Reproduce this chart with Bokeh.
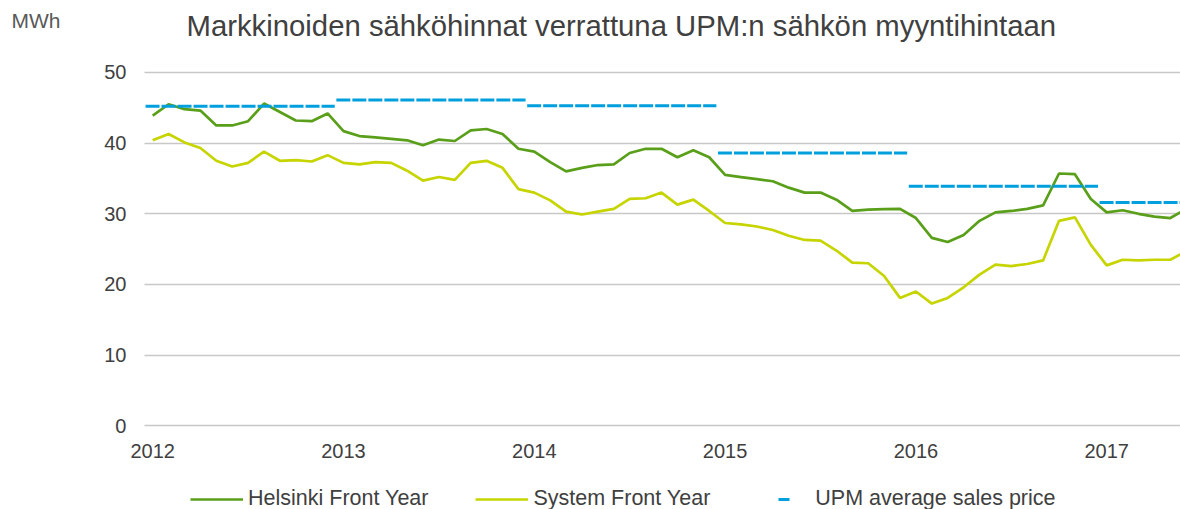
from bokeh.plotting import figure
from bokeh.models import (Range1d, FixedTicker, Label, Legend, LegendItem,
                          ColumnDataSource, LinearAxis, Grid)
from bokeh.embed import file_html
from bokeh.resources import INLINE

# ---------------- data ----------------
start_year = 2012
tick_years = [2012, 2013, 2014, 2015, 2016, 2017]
y_ticks = [0, 10, 20, 30, 40, 50]

# monthly values from Jan 2012 (EUR/MWh)
helsinki = [43.9, 45.5, 44.8, 44.6, 42.5, 42.5, 43.1, 45.6, 44.4, 43.2, 43.1, 44.2,
            41.7, 41.0, 40.8, 40.6, 40.4, 39.7, 40.5, 40.3, 41.8, 42.0, 41.3, 39.2,
            38.8, 37.3, 36.0, 36.5, 36.9, 37.0, 38.6, 39.2, 39.2, 38.0, 39.0, 38.0,
            35.5, 35.2, 34.9, 34.6, 33.7, 33.0, 33.0, 32.0, 30.4, 30.6, 30.65, 30.7,
            29.4, 26.6, 26.0, 27.0, 29.0, 30.2, 30.4, 30.7, 31.2, 35.7, 35.6, 32.1,
            30.2, 30.5, 30.0, 29.6, 29.4, 30.7]
system = [40.4, 41.3, 40.1, 39.3, 37.5, 36.7, 37.2, 38.8, 37.5, 37.6, 37.4, 38.3,
          37.2, 37.0, 37.3, 37.2, 36.1, 34.7, 35.2, 34.8, 37.2, 37.5, 36.5, 33.5,
          33.0, 31.9, 30.3, 29.9, 30.3, 30.7, 32.1, 32.2, 33.0, 31.3, 32.0, 30.4,
          28.7, 28.5, 28.2, 27.7, 26.9, 26.3, 26.2, 24.8, 23.1, 23.0, 21.2, 18.1,
          19.0, 17.3, 18.1, 19.6, 21.4, 22.8, 22.6, 22.9, 23.4, 29.0, 29.5, 25.6,
          22.7, 23.5, 23.4, 23.5, 23.5, 24.7]
upm_years = [2012, 2013, 2014, 2015, 2016, 2017]
upm_price = [45.2, 46.1, 45.3, 38.6, 33.9, 31.6]

title_text = "Markkinoiden sähköhinnat verrattuna UPM:n sähkön myyntihintaan"
unit_text = "MWh"
series_names = ["Helsinki Front Year", "System Front Year", "UPM average sales price"]

# ---------------- style / layout ----------------
GREEN = "#5A9F1A"
YELLOW = "#C6D400"
BLUE = "#00A0DE"
GRID = "#C8C8C8"
TEXT = "#404040"
FONT = "Liberation Sans"
UNIT_LEVEL = 57.4      # vertical placement of the unit caption (axis units)
PLOT_LEFT = -0.516     # left end of the plotting area (month units)
X_START, X_END = -9.572, 64.64
Y_START, Y_END = -11.84, 60.18

months = list(range(len(helsinki)))
src = ColumnDataSource(dict(m=months, h=helsinki, s=system))

seg_src = ColumnDataSource(dict(
    x0=[12 * (y - start_year) - 0.45 for y in upm_years],
    x1=[12 * (y - start_year) + 11.45 for y in upm_years],
    y=upm_price,
))

p = figure(width=1180, height=509, output_backend="svg", toolbar_location=None,
           x_range=Range1d(X_START, X_END), y_range=Range1d(Y_START, Y_END),
           min_border_left=0, min_border_right=0, min_border_top=0, min_border_bottom=0)
p.outline_line_color = None
p.background_fill_color = "white"
p.border_fill_color = "white"

p.xgrid.grid_line_color = None
if "cross_bounds" in Grid.properties():
    p.ygrid.ticker = FixedTicker(ticks=y_ticks)
    p.ygrid.grid_line_color = GRID
    p.ygrid.grid_line_width = 1.5
    p.ygrid.cross_bounds = (PLOT_LEFT, X_END)
else:
    p.ygrid.grid_line_color = None
    p.segment(x0=[PLOT_LEFT] * len(y_ticks), y0=y_ticks,
              x1=[X_END] * len(y_ticks), y1=y_ticks,
              line_color=GRID, line_width=1.5, level="underlay")

p.yaxis.ticker = FixedTicker(ticks=y_ticks)
p.yaxis.fixed_location = PLOT_LEFT
p.xaxis.ticker = FixedTicker(ticks=[12 * (y - start_year) for y in tick_years])
p.xaxis.major_label_overrides = {12 * (y - start_year): str(y) for y in tick_years}
p.xaxis.fixed_location = 0
for ax in (p.xaxis, p.yaxis):
    ax.axis_line_color = None
    ax.major_tick_line_color = None
    ax.minor_tick_line_color = None
    ax.major_tick_out = 0
    ax.major_tick_in = 0
    ax.major_label_text_font = FONT
    ax.major_label_text_font_size = "20px"
    ax.major_label_text_color = TEXT
p.yaxis.major_label_standoff = 18
p.xaxis.major_label_standoff = 18

# unit caption "MWh" as the label of a second left axis
unit_axis = LinearAxis(ticker=FixedTicker(ticks=[UNIT_LEVEL]),
                       major_label_overrides={UNIT_LEVEL: unit_text},
                       fixed_location=PLOT_LEFT,
                       axis_line_color=None, major_tick_line_color=None,
                       minor_tick_line_color=None, major_tick_out=0, major_tick_in=0,
                       major_label_standoff=84, major_label_text_font=FONT,
                       major_label_text_font_size="21px", major_label_text_color="#595959")
p.add_layout(unit_axis, "left")

r_h = p.line("m", "h", source=src, line_color=GREEN, line_width=2.7)
r_s = p.line("m", "s", source=src, line_color=YELLOW, line_width=2.7)
p.segment("x0", "y", "x1", "y", source=seg_src, line_color=BLUE, line_width=3,
          line_dash="14 2")
# legend swatch for the UPM price: one short dash (no visible data)
nan = float("nan")
r_leg = p.line(x=[nan], y=[nan], line_color=BLUE, line_width=3, line_dash="0 21 11 100")

legend = Legend(items=[LegendItem(label=series_names[0], renderers=[r_h]),
                       LegendItem(label=series_names[1], renderers=[r_s]),
                       LegendItem(label=series_names[2], renderers=[r_leg])],
                orientation="horizontal", location=(190, -2),
                glyph_width=53, glyph_height=22, label_height=22, label_standoff=5,
                spacing=47, padding=0, margin=0,
                border_line_color=None, background_fill_alpha=0,
                label_text_font=FONT, label_text_font_size="21.5px",
                label_text_color=TEXT)
p.add_layout(legend, "center")

p.add_layout(Label(x=186, y=484.5, x_units="screen", y_units="screen", text=title_text,
                   text_font=FONT, text_font_size="29.3px", text_color=TEXT,
                   text_baseline="alphabetic"))

with open("out.html", "w", encoding="utf-8") as f:
    f.write(file_html(p, INLINE))
